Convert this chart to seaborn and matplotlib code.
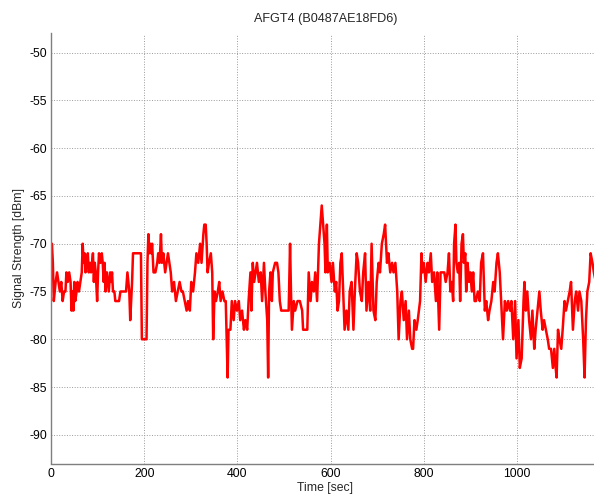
import matplotlib
matplotlib.use("Agg")
import matplotlib.pyplot as plt
import seaborn as sns
import pandas as pd

title = "AFGT4 (B0487AE18FD6)"
x_label = "Time [sec]"
y_label = "Signal Strength [dBm]"
x_ticks = [0, 200, 400, 600, 800, 1000]
y_ticks = [-50, -55, -60, -65, -70, -75, -80, -85, -90]

time_sec = [
    0, 2, 4, 6, 8, 10, 13, 16, 19, 22, 25, 28, 31, 33, 36, 39, 42, 44, 46, 48,
    50, 52, 55, 57, 60, 63, 66, 68, 70, 72, 74, 77, 79, 81, 84, 86, 88, 90, 92, 94,
    96, 99, 101, 103, 106, 109, 111, 113, 115, 117, 120, 122, 124, 127, 129, 131, 133, 136, 138, 142,
    146, 149, 153, 157, 161, 164, 166, 168, 170, 172, 174, 176, 180, 185, 190, 193, 195, 200, 205, 207,
    209, 211, 213, 215, 217, 220, 224, 228, 230, 233, 236, 238, 241, 243, 245, 248, 251, 254, 257, 260,
    264, 268, 272, 276, 280, 283, 287, 291, 294, 298, 301, 305, 309, 312, 316, 320, 323, 327, 329, 332,
    334, 336, 339, 343, 346, 348, 351, 354, 358, 361, 364, 368, 372, 375, 379, 381, 385, 388, 392, 395,
    399, 403, 406, 410, 414, 417, 421, 424, 428, 430, 433, 436, 439, 442, 446, 450, 453, 457, 460, 464,
    466, 468, 471, 474, 476, 481, 485, 488, 491, 494, 497, 504, 510, 513, 515, 517, 521, 524, 529, 534,
    539, 541, 546, 550, 553, 557, 560, 564, 567, 571, 575, 578, 581, 584, 587, 589, 592, 594, 598, 602,
    605, 609, 612, 615, 618, 621, 624, 627, 630, 634, 638, 641, 645, 649, 652, 656, 659, 663, 667, 670,
    674, 677, 681, 685, 688, 692, 696, 699, 703, 706, 710, 714, 717, 721, 724, 728, 732, 735, 739, 743,
    746, 750, 753, 757, 761, 764, 768, 771, 775, 777, 780, 784, 787, 792, 795, 797, 800, 804, 808, 811,
    815, 818, 822, 826, 829, 833, 836, 844, 847, 851, 854, 857, 860, 863, 865, 868, 870, 873, 876, 878,
    881, 884, 886, 889, 891, 894, 897, 900, 903, 906, 909, 912, 916, 920, 923, 927, 931, 934, 938, 941,
    945, 949, 952, 956, 959, 963, 967, 970, 974, 978, 981, 985, 988, 992, 996, 999, 1003, 1006, 1010, 1014,
    1016, 1019, 1022, 1026, 1030, 1033, 1037, 1040, 1044, 1048, 1051, 1055, 1058, 1062, 1066, 1069, 1073, 1077, 1080, 1083,
    1085, 1088, 1091, 1095, 1098, 1102, 1105, 1109, 1113, 1116, 1120, 1124, 1127, 1131, 1134, 1138, 1142, 1145, 1148, 1151,
    1155, 1158, 1162, 1165, 1169, 1173, 1176,
]

signal_dbm = [
    -72, -70, -72, -76, -75, -74, -73, -74, -75, -74, -76, -75, -75, -73, -74, -73, -74, -77, -75, -77,
    -74, -76, -75, -74, -75, -74, -73, -70, -72, -71, -73, -72, -71, -73, -72, -73, -72, -71, -74, -72,
    -73, -76, -73, -71, -72, -71, -72, -74, -72, -75, -73, -74, -75, -73, -74, -73, -75, -75, -76, -76,
    -76, -75, -75, -75, -75, -73, -74, -75, -78, -76, -74, -71, -71, -71, -71, -71, -80, -80, -80, -72,
    -69, -71, -70, -71, -70, -73, -73, -72, -71, -72, -69, -72, -71, -72, -73, -72, -71, -72, -73, -75,
    -74, -76, -75, -74, -75, -75, -76, -77, -76, -77, -74, -75, -73, -71, -72, -70, -72, -69, -68, -68,
    -70, -73, -72, -71, -73, -80, -75, -76, -75, -74, -76, -75, -76, -76, -84, -79, -79, -76, -78, -76,
    -77, -76, -78, -77, -79, -78, -79, -76, -73, -77, -72, -74, -73, -72, -74, -73, -76, -72, -75, -78,
    -84, -75, -73, -76, -73, -72, -72, -73, -76, -77, -77, -77, -77, -70, -75, -79, -76, -77, -76, -76,
    -77, -79, -79, -79, -73, -76, -74, -75, -73, -76, -70, -68, -66, -68, -70, -73, -68, -73, -72, -74,
    -72, -75, -74, -77, -76, -72, -71, -75, -79, -77, -79, -75, -74, -79, -75, -71, -72, -75, -76, -73,
    -71, -77, -74, -77, -70, -77, -78, -74, -72, -73, -70, -69, -68, -72, -71, -73, -72, -73, -72, -75,
    -80, -76, -75, -78, -76, -80, -77, -80, -81, -81, -78, -79, -78, -76, -71, -73, -72, -74, -72, -73,
    -71, -74, -73, -76, -73, -79, -73, -73, -74, -73, -71, -75, -74, -76, -70, -68, -72, -73, -72, -76,
    -70, -69, -72, -71, -75, -72, -74, -73, -75, -73, -76, -76, -75, -76, -72, -71, -77, -76, -78, -77,
    -76, -74, -75, -72, -71, -73, -77, -80, -76, -77, -76, -77, -76, -80, -76, -82, -78, -83, -82, -76,
    -74, -77, -75, -78, -80, -77, -81, -79, -77, -75, -77, -79, -78, -79, -80, -81, -81, -83, -81, -83,
    -84, -79, -80, -81, -79, -76, -77, -76, -75, -74, -79, -76, -75, -77, -75, -76, -80, -84, -78, -75,
    -74, -71, -72, -73, -74, -72, -73,
]

df = pd.DataFrame({"time": time_sec, "signal": signal_dbm})

sns.set_style("white")
plt.rcParams["font.family"] = ["Liberation Sans", "DejaVu Sans"]

fig = plt.figure(figsize=(5.94, 4.97), dpi=100)
ax = fig.add_axes([51 / 594, 1 - 463.5 / 497, 1 - 51 / 594 + 0.01, (463.5 - 33.5) / 497])

sns.lineplot(data=df, x="time", y="signal", ax=ax, color="#ff0000",
             linewidth=1.8, estimator=None, sort=False)

ax.set_xlim(0, 1178)
ax.set_ylim(-93, -48)
ax.set_xticks(x_ticks)
ax.set_yticks(y_ticks)
ax.set_xticklabels([str(v) for v in x_ticks])
ax.set_yticklabels([str(v) for v in y_ticks])

ax.grid(True, linestyle=":", color="#9a9a9a", linewidth=0.7)
for s in ["top", "right"]:
    ax.spines[s].set_visible(False)
for s in ["left", "bottom"]:
    ax.spines[s].set_color("#7f7f7f")
    ax.spines[s].set_linewidth(1.0)
ax.tick_params(direction="in", length=3, width=0.8, color="#7f7f7f",
               labelsize=8.8, labelcolor="#000000", pad=3)

ax.set_title(title, fontsize=9.1, pad=8)
ax.set_xlabel(x_label, fontsize=8.8, labelpad=2)
ax.set_ylabel(y_label, fontsize=8.8, labelpad=3)

fig.savefig("out.png", dpi=100)
